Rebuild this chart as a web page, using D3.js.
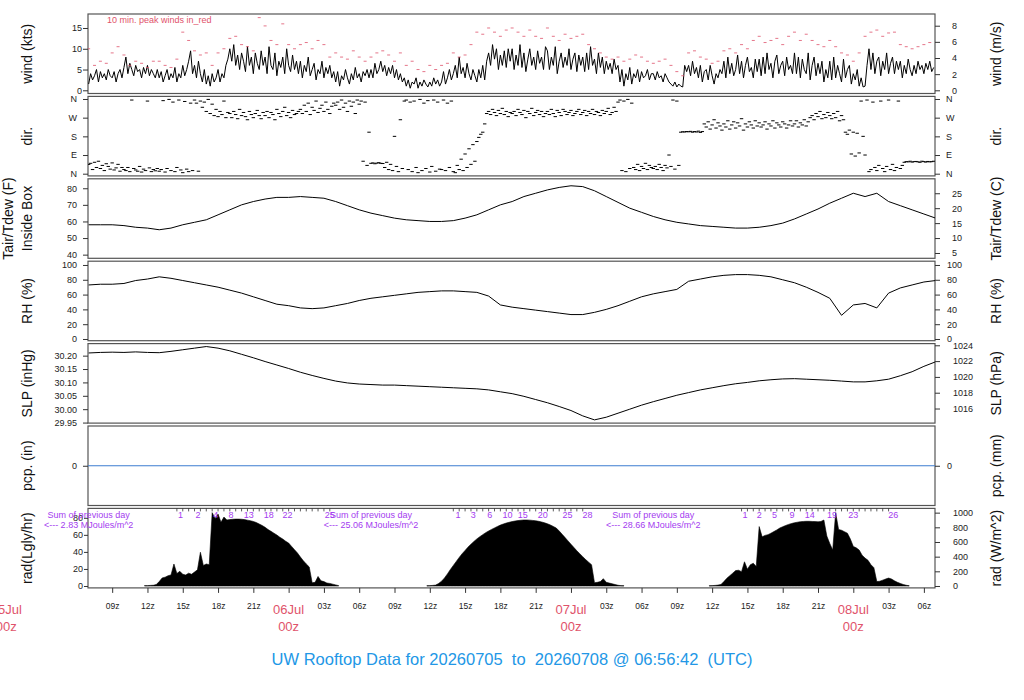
<!DOCTYPE html>
<html>
<head>
<meta charset="utf-8">
<script src="https://cdn.jsdelivr.net/npm/d3@7"></script>
<style>
  body { margin: 0; background: #fff; }
  svg { font-family: "Liberation Sans", Arial, Helvetica, sans-serif; }
</style>
</head>
<body>
<svg id="chart" width="1024" height="700"></svg>
<script>
// time window of the plot (UTC)
const t0 = Date.UTC(2026, 6, 5, 6, 56, 42)
const t1 = t0 + 72 * 3600e3
const day0 = Date.UTC(2026, 6, 5, 0)        // 05Jul 00z
const start07 = Date.UTC(2026, 6, 5, 7)     // first sample of the series
const HOUR = 3600e3

// wind speed (kts), every 10 min from 05Jul 07z
const windKts = [
  1.5, 4, 2.5, 3.5, 5, 2, 4.5, 3, 4, 2.5, 5, 3.5, 3, 4.5, 2, 4, 5, 3,
  5.5, 8, 4, 6.5, 5, 3.5, 6, 4.5, 5, 3, 5.5, 4, 6, 3.5, 5, 4, 3, 5,
  3, 4.5, 2, 3.5, 5, 2.5, 4, 3, 5.5, 2, 4, 3, 6, 3.5, 5, 7, 9.5, 4,
  6, 3, 7, 4, 2, 5, 1.5, 3.5, 1, 4, 2, 3, 5, 2, 4, 3, 6, 7.5,
  10, 7, 11, 6, 8.5, 5, 9, 7, 4.5, 10.5, 6, 8, 4, 9, 6.5, 5, 9.5, 6,
  8, 4, 10.5, 6, 5, 9, 3.5, 7, 5.5, 8, 4, 10, 6, 4.5, 8.5, 5, 7, 4,
  7, 3, 6, 4.5, 8, 3.5, 5, 6.5, 2.5, 5, 4, 7, 3, 5.5, 4, 6, 3, 4.5,
  2, 4.5, 1, 3.5, 2.5, 5, 3, 1.5, 4, 2.5, 5.5, 3, 4, 2, 4.5, 3.5, 5, 3,
  5, 3, 6.5, 4, 5, 7, 4.5, 6, 3.5, 5.5, 4, 6, 3, 5, 2.5, 4, 2, 3,
  1, 2.5, 0.5, 2, 1.5, 3, 0.5, 2, 1, 2.5, 1.5, 0.8, 2, 1, 3, 1.5, 2.5, 1,
  2, 4.5, 1.5, 3, 5, 2.5, 4, 6, 3, 8, 4, 5.5, 3, 6.5, 4, 2.5, 5, 3.5,
  2, 5, 3, 6, 2.5, 7, 9, 6, 11, 7.5, 10, 5, 8.5, 6, 9.5, 5.5, 10, 7,
  10, 5, 8.5, 6, 11, 5.5, 9, 4.5, 7.5, 10, 6, 8, 5, 9.5, 6.5, 8, 5, 10.5,
  9.5, 5, 8, 6, 10.5, 4, 7, 9, 5.5, 8, 6, 10, 5, 7.5, 9, 4.5, 8.5, 6,
  8, 4.5, 9, 5, 10.5, 6, 7.5, 4, 9, 5.5, 8, 4, 7, 5, 6.5, 4, 7.5, 5,
  6, 2, 5, 1, 4, 2.5, 5.5, 1.5, 4, 3, 5, 2, 4.5, 3, 3.5, 5, 2.5, 4,
  4, 2.5, 4.5, 3, 3.5, 2, 4, 3, 2, 1.5, 1, 2, 0.8, 1.5, 1, 0.8, 6, 4.5,
  6, 3.5, 7, 4, 5.5, 3, 6, 2, 4.5, 5, 2.5, 6, 3.5, 1.5, 4, 3, 5, 4,
  7, 3, 8, 4, 6.5, 3.5, 5, 8.5, 4, 7, 3, 6, 8, 4.5, 5.5, 3, 7.5, 4.5,
  7.5, 3.5, 8, 4, 9, 5, 6.5, 3, 7, 8.5, 4, 6, 7, 3.5, 8, 5, 6, 4,
  9, 4, 8, 3, 7.5, 5, 4, 9, 2.5, 6, 8, 3.5, 6.5, 4, 7, 2, 5, 3,
  7, 2.5, 8, 3, 6, 4, 2, 7.5, 3, 5, 6, 1.5, 4, 2.5, 5, 1, 3, 0.8,
  1, 6, 10, 5, 9, 4, 7, 8, 3.5, 7, 5, 9, 4, 6.5, 8, 4, 7, 5,
  7, 3, 6, 4, 7.5, 5, 3.5, 6, 4, 7, 5, 6, 4, 6.5, 5, 7, 4.5, 5.5
]

// 10 min peak winds (kts), every 30 min from 05Jul 07z
const gustKts = [
  10, 6, 7, 6.5, 9, 10.5, 8.5, 6, 7, 6.5, 5.5, 7,
  7, 6, 5.5, 7.5, 14, 12, 9.5, 8.5, 9, 6, 9, 10,
  12.5, 13, 11, 10.5, 9.5, 17.5, 15.5, 12, 11, 16, 11, 10,
  11, 11.5, 10, 12, 11, 8, 9, 8, 7.5, 9.5, 8, 7,
  8, 9, 9.5, 8.5, 7, 9, 6, 7, 5, 4.5, 6, 5,
  6, 6.5, 9, 8, 8.5, 11, 14, 13.5, 15, 14, 13, 14.5,
  15, 14, 13, 14.5, 13, 12.5, 15, 13, 12, 13.5, 12.5, 13,
  13.5, 11, 10, 9, 8, 7.5, 8, 7, 7.5, 8.5, 8, 7,
  6.5, 7, 7.5, 6, 4.5, 3.5, 9, 9.5, 8, 7.5, 6.5, 7,
  9.5, 10, 9, 11, 10, 12, 13, 11.5, 12, 12.5, 11, 13,
  14, 12, 13.5, 12, 11, 10.5, 12, 10.5, 9, 8.5, 7, 9,
  13, 14, 14.5, 13, 13.8, 14, 11, 10.5, 10, 10.5, 11, 11.5
]

// wind direction (deg), every 10 min from 05Jul 07z
const dirDeg = [
  45, 50, 20, 55, 30, 60, 25, 40, 15, 48, 35, 22, 52, 18, 28, 45, 12, 30,
  20, 15, 30, 10, 355, 25, 18, 12, 35, 8, 22, 15, 350, 28, 10, 20, 14, 25,
  12, 20, 352, 8, 25, 358, 15, 345, 10, 30, 355, 18, 5, 348, 22, 10, 340, 15,
  355, 340, 12, 350, 320, 345, 300, 358, 290, 335, 280, 310, 275, 300, 285, 350, 270, 295,
  290, 270, 300, 285, 265, 310, 280, 295, 275, 260, 300, 285, 270, 290, 305, 280, 265, 295,
  280, 300, 270, 295, 285, 260, 310, 290, 275, 300, 320, 280, 295, 270, 305, 285, 290, 300,
  310, 290, 330, 300, 340, 285, 320, 305, 350, 295, 315, 330, 300, 345, 310, 290, 325, 340,
  330, 345, 310, 355, 320, 340, 300, 350, 325, 345, 290, 355, 335, 350, 60, 345, 40, 200,
  50, 52, 48, 51, 53, 50, 49, 30, 55, 20, 45, 15, 180, 35, 10, 260, 25, 350,
  355, 20, 345, 10, 350, 30, 5, 358, 15, 340, 25, 352, 8, 35, 355, 12, 345, 22,
  20, 355, 15, 340, 30, 350, 10, 5, 40, 20, 70, 15, 95, 30, 120, 45, 140, 60,
  155, 175, 190, 200, 240, 290, 300, 285, 310, 295, 280, 305, 290, 315, 285, 300, 275, 295,
  290, 300, 280, 310, 295, 285, 305, 270, 300, 290, 315, 280, 295, 305, 285, 300, 275, 290,
  300, 285, 310, 290, 275, 305, 295, 280, 310, 300, 285, 295, 305, 280, 290, 300, 310, 285,
  295, 305, 280, 300, 290, 310, 285, 300, 295, 280, 305, 290, 300, 315, 285, 295, 320, 300,
  345, 355, 15, 350, 10, 358, 25, 340, 30, 20, 45, 15, 35, 25, 50, 20, 40, 30,
  25, 35, 20, 45, 30, 15, 40, 28, 90, 35, 355, 22, 350, 40, 200, 202, 201, 203,
  202, 204, 200, 203, 201, 205, 199, 203, 240, 225, 250, 215, 235, 260, 220, 245, 230, 210,
  240, 225, 255, 215, 235, 250, 220, 245, 230, 265, 210, 240, 225, 250, 235, 220, 255, 230,
  245, 225, 235, 250, 215, 240, 230, 255, 220, 245, 235, 225, 250, 240, 220, 235, 255, 230,
  240, 255, 225, 245, 235, 260, 230, 250, 270, 280, 260, 290, 275, 300, 265, 285, 270, 295,
  280, 265, 290, 270, 300, 255, 280, 260, 200, 190, 210, 95, 200, 85, 195, 100, 350, 180,
  90, 355, 10, 20, 345, 30, 15, 40, 350, 25, 10, 35, 355, 20, 45, 15, 30, 350,
  25, 40, 55, 58, 57, 60, 56, 58, 59, 57, 55, 60, 58, 56, 59, 57, 58, 60
]

// hourly from 05Jul 07z
const tairF = [
  58, 58, 58, 57.5, 56.5, 56, 55, 56, 58, 59.5,
  61, 64, 67, 70, 72, 73.5, 74.5, 74.5, 75, 74.5,
  74, 72, 69.5, 67, 65, 63.5, 62, 61, 60.5, 60,
  60, 60.5, 62, 64, 67, 70, 72, 75, 77, 79,
  80.5, 81.5, 81, 78.5, 75, 71.5, 68, 65.5, 63, 61,
  59.5, 58.5, 57.5, 57, 56.5, 56, 56, 56.5, 57.5, 59,
  61.5, 64.5, 67.5, 71, 74, 77, 75, 77, 72, 69.5,
  67, 64.5, 62
]
const rhPct = [
  73, 74, 74, 75, 79, 81, 84, 82, 79, 76,
  73, 70, 66, 62, 57, 52, 47, 45, 42, 41,
  42, 45, 48, 52, 55, 57, 59, 61, 63, 64,
  65, 65, 64, 63, 58, 46, 43, 41, 39, 37,
  35, 33, 33, 36, 40, 45, 51, 57, 61, 64,
  67, 78, 81, 84, 86, 87, 87, 86, 84, 80,
  76, 70, 63, 55, 32, 46, 48, 42, 62, 69,
  73, 77, 79
]
const slpInHg = [
  30.210, 30.212, 30.213, 30.212, 30.214, 30.212, 30.211, 30.216, 30.222, 30.228,
  30.234, 30.228, 30.218, 30.205, 30.192, 30.178, 30.165, 30.152, 30.138, 30.126,
  30.115, 30.105, 30.098, 30.094, 30.092, 30.090, 30.090, 30.088, 30.086, 30.084,
  30.082, 30.080, 30.078, 30.076, 30.072, 30.065, 30.058, 30.048, 30.036, 30.024,
  30.010, 29.995, 29.975, 29.960, 29.970, 29.985, 30.000, 30.015, 30.028, 30.040,
  30.052, 30.062, 30.072, 30.080, 30.088, 30.095, 30.100, 30.106, 30.110, 30.113,
  30.114, 30.112, 30.110, 30.108, 30.105, 30.102, 30.102, 30.106, 30.112, 30.125,
  30.140, 30.160, 30.177
]
const pcpIn = [0, 0]   // no rain at all

// solar radiation (W/m^2), every 15 min from 11:45z of each day
const radStarts = [Date.UTC(2026, 6, 5, 11, 45), Date.UTC(2026, 6, 6, 11, 45), Date.UTC(2026, 6, 7, 11, 45)]
const radDay1 = [
  5, 5, 8, 10, 20, 60, 110, 120, 140, 150, 300, 170, 200, 160, 150, 175, 160, 190, 220, 460,
  280, 300, 290, 1000, 920, 980, 870, 940, 900, 905, 910, 912, 912, 910, 905, 898, 890, 880, 865, 845,
  825, 800, 770, 745, 720, 695, 665, 640, 610, 585, 540, 495, 450, 395, 345, 300, 260, 45, 50, 130,
  70, 60, 40, 35, 25, 15, 5
]
const radDay2 = [
  3, 5, 8, 12, 35, 65, 110, 165, 225, 280, 335, 390, 440, 485, 530, 570, 607, 642, 672, 700,
  727, 750, 772, 792, 812, 830, 845, 858, 869, 878, 886, 892, 897, 900, 900, 898, 894, 889, 882, 873,
  862, 848, 832, 812, 790, 750, 705, 660, 615, 570, 525, 480, 440, 400, 360, 325, 290, 45, 50, 60,
  100, 50, 40, 30, 20, 10, 5, 3
]
const radDay3 = [
  3, 5, 8, 12, 20, 60, 105, 140, 175, 210, 215, 195, 330, 230, 290, 310, 265, 810, 670, 690,
  700, 720, 742, 765, 790, 808, 825, 840, 852, 862, 870, 877, 880, 882, 882, 880, 878, 875, 880, 900,
  680, 580, 490, 1000, 770, 760, 740, 720, 640, 540, 520, 490, 420, 380, 350, 290, 250, 60, 65, 80,
  95, 108, 95, 70, 50, 35, 20, 10, 3
]

// running daily totals (MJ/m^2) printed along the top of the rad panel, hours since 05Jul 00z
const cumHours = [
  [14.8, 16.3, 17.8, 19.1, 20.6, 22.3, 23.9, 27.5],
  [38.4, 39.7, 41.1, 42.6, 43.9, 45.6, 47.7, 49.4],
  [62.8, 64.0, 65.3, 66.8, 68.3, 70.2, 72.0, 75.4]
]
const cumLabels = [
  [1, 2, 4, 8, 13, 18, 22, 25],
  [1, 3, 6, 10, 15, 20, 25, 28],
  [1, 2, 5, 9, 14, 19, 23, 26]
]
const prevDayHours = [7, 31, 55]
const prevDaySums = ["2.83", "25.06", "28.66"]

const FONT = '"Liberation Sans", Arial, Helvetica, sans-serif'
const RED = "#df536b"
const PURPLE = "#a43cf0"

var svg = d3.select("#chart")

var x = d3.scaleUtc()
    .domain([new Date(t0), new Date(t1)])
    .range([88, 935])

var PH = 79.5
function panelTop(i) { return 14 + i * 82.4 }
function yScale(i, lo, hi) {
    return d3.scaleLinear().domain([lo, hi]).range([panelTop(i) + PH, panelTop(i)])
}

var yWind = yScale(0, -0.77, 18.37)
var yDir = yScale(1, -10.6, 372.5)
var yTair = yScale(2, 37.8, 85.7)
var yRH = yScale(3, -2.3, 105.1)
var ySLP = yScale(4, 29.948, 30.245)
var yPcp = yScale(5, -1, 1)
var yRad = yScale(6, -26, 1058)

// clip everything to the plot columns
svg.append("defs").append("clipPath").attr("id", "clip")
    .append("rect").attr("x", 88).attr("y", 0).attr("width", 847).attr("height", 700)

// panel boxes
for (var i = 0; i < 7; i++) {
    svg.append("rect")
        .attr("x", 88).attr("y", panelTop(i))
        .attr("width", 847).attr("height", PH)
        .attr("fill", "none")
        .attr("stroke", "#555")
        .attr("stroke-width", 1.2)
}

function leftAxis(y, vals, labels, pad, size) {
    var g = svg.append("g")
        .attr("transform", "translate(88,0)")
        .call(d3.axisLeft(y).tickValues(vals).tickFormat((d, i) => labels[i]).tickSize(size || 5).tickPadding(pad))
    g.attr("font-family", FONT).attr("font-size", 9)
    g.select(".domain").remove()
    g.selectAll("line").attr("stroke", "#333")
    g.selectAll("text").attr("fill", "#222")
}
function rightAxis(y, vals, labels, pad) {
    var g = svg.append("g")
        .attr("transform", "translate(935,0)")
        .call(d3.axisRight(y).tickValues(vals).tickFormat((d, i) => labels[i]).tickSize(5).tickPadding(pad))
    g.attr("font-family", FONT).attr("font-size", 9)
    g.select(".domain").remove()
    g.selectAll("line").attr("stroke", "#333")
    g.selectAll("text").attr("fill", "#222")
}
function leftTitle(i, txt, xpos) {
    svg.append("text")
        .attr("transform", "translate(" + (xpos || 27) + "," + (panelTop(i) + PH / 2) + ") rotate(-90)")
        .attr("text-anchor", "middle")
        .attr("dy", "0.35em")
        .attr("font-size", 14)
        .attr("fill", "#111")
        .text(txt)
}
function rightTitle(i, txt) {
    svg.append("text")
        .attr("transform", "translate(996," + (panelTop(i) + PH / 2) + ") rotate(-90)")
        .attr("text-anchor", "middle")
        .attr("dy", "0.35em")
        .attr("font-size", 14)
        .attr("fill", "#111")
        .text(txt)
}

// axes + titles
leftAxis(yWind, [0, 5, 10, 15], ["0", "5", "10", "15"], 1)
rightAxis(yWind, [0, 2, 4, 6, 8].map(d => d * 1.94384), ["0", "2", "4", "6", "8"], 12)
leftTitle(0, "wind (kts)")
rightTitle(0, "wind (m/s)")

leftAxis(yDir, [0, 90, 180, 270, 360], ["N", "E", "S", "W", "N"], 6)
rightAxis(yDir, [0, 90, 180, 270, 360], ["N", "E", "S", "W", "N"], 6)
leftTitle(1, "dir.")
rightTitle(1, "dir.")

leftAxis(yTair, [40, 50, 60, 70, 80], ["40", "50", "60", "70", "80"], 6)
rightAxis(yTair, [5, 10, 15, 20, 25].map(c => c * 9 / 5 + 32), ["5", "10", "15", "20", "25"], 12)
leftTitle(2, "Tair/Tdew (F)", 8)
leftTitle(2, "Inside Box", 27)
rightTitle(2, "Tair/Tdew (C)")

leftAxis(yRH, [0, 20, 40, 60, 80, 100], ["0", "20", "40", "60", "80", "100"], 6)
rightAxis(yRH, [0, 20, 40, 60, 80, 100], ["0", "20", "40", "60", "80", "100"], 7)
leftTitle(3, "RH (%)")
rightTitle(3, "RH (%)")

leftAxis(ySLP, [29.95, 30.00, 30.05, 30.10, 30.15, 30.20], ["29.95", "30.00", "30.05", "30.10", "30.15", "30.20"], 6)
rightAxis(ySLP, [1016, 1018, 1020, 1022, 1024].map(h => h / 33.8639), ["1016", "1018", "1020", "1022", "1024"], 13)
leftTitle(4, "SLP (inHg)")
rightTitle(4, "SLP (hPa)")

leftAxis(yPcp, [0], ["0"], 6)
rightAxis(yPcp, [0], ["0"], 7)
leftTitle(5, "pcp. (in)")
rightTitle(5, "pcp. (mm)")

leftAxis(yRad, [0, 20, 40, 60, 80].map(l => l * 11.622), ["0", "20", "40", "60", "80"], 1, 4)
rightAxis(yRad, [0, 200, 400, 600, 800, 1000], ["0", "200", "400", "600", "800", "1000"], 13)
leftTitle(6, "rad(Lgly/hr)")
rightTitle(6, "rad (W/m^2)")

var plot = svg.append("g").attr("clip-path", "url(#clip)")

// wind
plot.append("path")
    .datum(windKts)
    .attr("fill", "none")
    .attr("stroke", "#000")
    .attr("stroke-width", 1)
    .attr("stroke-linejoin", "round")
    .attr("d", d3.line()
        .x((d, i) => x(new Date(start07 + i * HOUR / 6)))
        .y(d => yWind(d)))

plot.selectAll(".gust")
    .data(gustKts)
    .join("line")
    .attr("x1", (d, i) => x(new Date(start07 + i * HOUR / 2)) - 1.5)
    .attr("x2", (d, i) => x(new Date(start07 + i * HOUR / 2)) + 1.5)
    .attr("y1", d => yWind(d))
    .attr("y2", d => yWind(d))
    .attr("stroke", RED)
    .attr("stroke-opacity", 0.8)
    .attr("stroke-width", 1)

svg.append("text")
    .attr("x", 107).attr("y", 23)
    .attr("font-size", 9)
    .attr("fill", RED)
    .text("10 min. peak winds in_red")

// direction
plot.selectAll(".dir")
    .data(dirDeg)
    .join("line")
    .attr("x1", (d, i) => x(new Date(start07 + i * HOUR / 6)) - 1.7)
    .attr("x2", (d, i) => x(new Date(start07 + i * HOUR / 6)) + 1.7)
    .attr("y1", d => yDir(d))
    .attr("y2", d => yDir(d))
    .attr("stroke", "#000")
    .attr("stroke-width", 1)

// hourly lines
function hourlyLine(vals, y, color) {
    plot.append("path")
        .datum(vals)
        .attr("fill", "none")
        .attr("stroke", color)
        .attr("stroke-width", 1)
        .attr("d", d3.line()
            .x((d, i) => x(new Date(start07 + i * HOUR)))
            .y(d => y(d)))
}
hourlyLine(tairF, yTair, "#000")
hourlyLine(rhPct, yRH, "#000")
hourlyLine(slpInHg, ySLP, "#000")

// precipitation, flat at zero
plot.append("path")
    .datum(pcpIn)
    .attr("fill", "none")
    .attr("stroke", "#3d7dd0")
    .attr("stroke-width", 1)
    .attr("d", d3.line()
        .x((d, i) => x(new Date(i === 0 ? t0 : t1)))
        .y(d => yPcp(d)))

// radiation
var radArea = (start) => d3.area()
    .x((d, i) => x(new Date(start + i * HOUR / 4)))
    .y0(yRad(0))
    .y1(d => yRad(d))
;[radDay1, radDay2, radDay3].forEach((vals, k) => {
    plot.append("path")
        .datum(vals)
        .attr("fill", "#000")
        .attr("stroke", "#000")
        .attr("stroke-width", 0.6)
        .attr("d", radArea(radStarts[k]))
})

// running totals along the top of the rad panel
var radTop = panelTop(6)
cumHours.forEach((hrs, k) => {
    var first = Math.floor(hrs[0] * 2) / 2, last = hrs[hrs.length - 1]
    var tks = d3.range(first, last + 0.01, 0.5)
    plot.selectAll(null)
        .data(tks)
        .join("line")
        .attr("x1", d => x(new Date(day0 + d * HOUR)))
        .attr("x2", d => x(new Date(day0 + d * HOUR)))
        .attr("y1", radTop)
        .attr("y2", radTop + 3)
        .attr("stroke", "#333")
        .attr("stroke-width", 0.8)
    svg.selectAll(null)
        .data(hrs)
        .join("text")
        .attr("x", d => x(new Date(day0 + d * HOUR)))
        .attr("y", radTop + 10)
        .attr("text-anchor", "middle")
        .attr("font-size", 9)
        .attr("fill", PURPLE)
        .text((d, i) => cumLabels[k][i])
})
prevDayHours.forEach((h, k) => {
    var px = x(new Date(day0 + h * HOUR))
    svg.append("text")
        .attr("x", px).attr("y", radTop + 10)
        .attr("text-anchor", "middle")
        .attr("font-size", 9)
        .attr("fill", PURPLE)
        .text("Sum of previous day")
    svg.append("text")
        .attr("x", px).attr("y", radTop + 20)
        .attr("text-anchor", "middle")
        .attr("font-size", 9)
        .attr("fill", PURPLE)
        .text("<--- " + prevDaySums[k] + " MJoules/m^2")
})

// time axis
var radBottom = panelTop(6) + PH
var hourTicks = d3.utcHour.every(3).range(new Date(t0), new Date(t1))
var xg = svg.append("g")
    .attr("transform", "translate(0," + radBottom + ")")
    .call(d3.axisBottom(x).tickValues(hourTicks).tickSize(5).tickPadding(10)
        .tickFormat(d => d.getUTCHours() === 0 ? "" : d3.utcFormat("%Hz")(d)))
xg.attr("font-family", FONT).attr("font-size", 8.5)
xg.select(".domain").remove()
xg.selectAll("line").attr("stroke", "#333")
xg.selectAll("text").attr("fill", "#222")

var midnights = d3.utcDay.range(new Date(day0), new Date(t1))
midnights.forEach(d => {
    var px = x(d)
    svg.append("text")
        .attr("x", px).attr("y", radBottom + 26)
        .attr("text-anchor", "middle")
        .attr("font-size", 13)
        .attr("fill", RED)
        .text(d3.utcFormat("%d%b")(d))
    svg.append("text")
        .attr("x", px).attr("y", radBottom + 43)
        .attr("text-anchor", "middle")
        .attr("font-size", 13)
        .attr("fill", RED)
        .text("00z")
})

svg.append("text")
    .attr("x", 512).attr("y", 665)
    .attr("text-anchor", "middle")
    .attr("font-size", 16.5)
    .attr("fill", "#2297e6")
    .style("white-space", "pre")
    .text("UW Rooftop Data for 20260705  to  20260708 @ 06:56:42  (UTC)")
</script>
</body>
</html>
